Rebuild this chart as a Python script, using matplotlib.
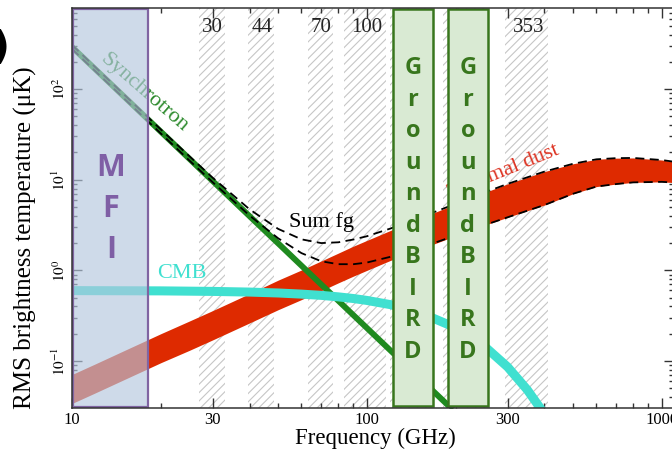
import matplotlib
matplotlib.use('Agg')
import matplotlib.pyplot as plt
import matplotlib.transforms as mtransforms
from matplotlib.ticker import FixedLocator, LogLocator, NullFormatter

plt.rcParams['font.family'] = ['Liberation Serif', 'DejaVu Serif']
plt.rcParams['mathtext.fontset'] = 'stix'
plt.rcParams['hatch.linewidth'] = 0.8

freq = [10, 12, 15, 20, 25, 30, 40, 50, 60, 70, 80, 90, 100, 120, 150,
        200, 250, 300, 400, 500, 600, 700, 800, 1000, 1100]
dust_hi = [0.071, 0.093, 0.130, 0.20, 0.276, 0.36, 0.554, 0.78, 1.01, 1.27,
           1.55, 1.85, 2.14, 2.75, 3.7, 5.4, 7.2, 9.0, 12.3, 15.0, 16.8,
           17.3, 17.4, 16.5, 15.8]
dust_lo = [0.034, 0.0445, 0.0622, 0.0957, 0.131, 0.171, 0.263, 0.368, 0.476,
           0.596, 0.728, 0.864, 1.0, 1.285, 1.69, 2.41, 3.14, 3.85, 5.26,
           7.0, 8.4, 8.96, 9.35, 9.48, 9.3]
sum_hi = [306.4, 174.2, 87.3, 35.9, 18.2, 10.52, 4.72, 2.87, 2.20, 2.00,
          2.04, 2.19, 2.38, 2.89, 3.77, 5.43, 7.21, 9.0, 12.3, 15.0, 16.8,
          17.3, 17.4, 16.5, 15.8]
sum_lo = [277.1, 157.5, 79.0, 32.4, 16.3, 9.37, 4.03, 2.26, 1.55, 1.26,
          1.17, 1.17, 1.22, 1.41, 1.75, 2.43, 3.15, 3.85, 5.26, 7.0, 8.4,
          8.96, 9.35, 9.48, 9.3]

sync_freq = [10, 12, 15, 20, 25, 30, 40, 50, 60, 70, 80, 90, 100, 120, 150,
             200, 250]
sync_hi = [306.3, 174.1, 87.2, 35.7, 17.9, 10.16, 4.17, 2.09, 1.185, 0.735,
           0.486, 0.337, 0.243, 0.138, 0.0692, 0.0284, 0.0142]
sync_lo = [277.1, 157.5, 78.9, 32.3, 16.2, 9.20, 3.77, 1.89, 1.073, 0.665,
           0.440, 0.305, 0.220, 0.125, 0.0626, 0.0257, 0.0129]

cmb_freq = [10, 20, 30, 40, 50, 60, 70, 80, 90, 100, 120, 150, 200, 250,
            300, 350, 400]
cmb = [0.598, 0.594, 0.586, 0.576, 0.563, 0.547, 0.530, 0.510, 0.489,
       0.466, 0.419, 0.346, 0.233, 0.146, 0.086, 0.048, 0.026]

# Planck channels: centre (GHz), fractional bandwidth, label
band_centre = [30, 44, 70, 100, 143, 217, 353]
band_width = [0.2, 0.2, 0.2, 0.33, 0.33, 0.33, 0.33]
band_label = ['30', '44', '70', '100', '', '', '353']

green = '#1f8a1f'
red = '#de2a00'
cyan = '#40e0d0'

fig = plt.figure(figsize=(6.72, 4.51), dpi=100)
ax = fig.add_axes([72 / 672, 43 / 451, 602 / 672, 400 / 451])
ax.set_xscale('log')
ax.set_yscale('log')
ax.set_xlim(10, 1100)
ax.set_ylim(0.0303, 785)

trans = mtransforms.blended_transform_factory(ax.transData, ax.transAxes)

for c, w, lab in zip(band_centre, band_width, band_label):
    ax.axvspan(c * (1 - w / 2), c * (1 + w / 2), facecolor='white',
               edgecolor='#c6c6c6', hatch='////', lw=0, zorder=0.5)
    if lab:
        ax.text(c, 0.95, lab, transform=trans, ha='center', va='center',
                fontsize=15, color='#222222', zorder=1)

# foregrounds
ax.fill_between(freq, dust_lo, dust_hi, color=red, lw=0, zorder=2)
ax.fill_between(sync_freq, sync_lo, sync_hi, color=green, lw=0, zorder=3)
ax.plot(sync_freq, sync_hi, color=green, lw=2.2, zorder=3)
ax.plot(sync_freq, sync_lo, color=green, lw=2.2, zorder=3)
ax.plot(cmb_freq, cmb, color=cyan, lw=6.5, solid_capstyle='butt', zorder=4)
ax.plot(freq, sum_hi, color='black', lw=1.3, ls=(0, (5, 3)), zorder=5)
ax.plot(freq, sum_lo, color='black', lw=1.3, ls=(0, (5, 3)), zorder=5)

ax.text(17.6, 90, 'Synchrotron', color='#2e8b2e', fontsize=16, rotation=-41,
        ha='center', va='center', zorder=6)
ax.text(291, 12.1, 'Thermal dust', color='#dd3322', fontsize=16, rotation=22,
        ha='center', va='center', zorder=6)
ax.text(70.3, 3.39, 'Sum fg', color='black', fontsize=16,
        ha='center', va='center', zorder=6)
ax.text(23.6, 0.93, 'CMB', color=cyan, fontsize=16,
        ha='center', va='center', zorder=6)

# MFI box (semi-transparent)
ax.axvspan(10.05, 18.1, ymin=0.0025, ymax=0.9975, facecolor=(0.71, 0.78, 0.87),
           alpha=0.65, lw=0, zorder=7)
ax.axvspan(10.05, 18.1, ymin=0.0025, ymax=0.9975, fill=False,
           edgecolor='#8064a2', lw=1.6, zorder=7.5)
ax.text(13.55, 0.497, 'M\nF\nI', transform=trans, ha='center', va='center',
        fontsize=22, fontweight='bold', family='Open Sans', color='#7f5fa5',
        linespacing=1.49, zorder=8)

# GroundBIRD boxes
for lo, hi, mid in [(122.5, 167.4, 143.3), (188.2, 257.1, 219.9)]:
    ax.axvspan(lo, hi, ymin=0.005, ymax=0.9975, facecolor='#d9ead3',
               edgecolor='#38761d', lw=1.8, zorder=9)
    ax.text(mid, 0.495, 'G\nr\no\nu\nn\nd\nB\nI\nR\nD', transform=trans,
            ha='center', va='center', fontsize=17, fontweight='bold',
            family='Open Sans', color='#38761d', linespacing=1.42, zorder=10)

# axes, ticks
ax.xaxis.set_major_locator(FixedLocator([10, 30, 100, 300, 1000]))
ax.set_xticklabels(['10', '30', '100', '300', '1000'])
ax.xaxis.set_minor_locator(LogLocator(base=10, subs=range(2, 10), numticks=20))
ax.xaxis.set_minor_formatter(NullFormatter())
ax.yaxis.set_major_locator(FixedLocator([0.1, 1, 10, 100]))
ax.set_yticklabels(['$10^{-1}$', '$10^{0}$', '$10^{1}$', '$10^{2}$'],
                   rotation=90, va='center', ha='right')
ax.yaxis.set_minor_locator(LogLocator(base=10, subs=range(2, 10), numticks=20))
ax.yaxis.set_minor_formatter(NullFormatter())
ax.tick_params(which='both', direction='in', top=True, right=True,
               color='#333333', width=1.0)
ax.tick_params(which='major', length=7)
ax.tick_params(which='minor', length=3.5)
ax.tick_params(axis='x', labelsize=12, pad=3)
ax.tick_params(axis='y', labelsize=11, pad=3)
for s in ax.spines.values():
    s.set_color('#333333')
    s.set_linewidth(1.1)
    s.set_zorder(11)

fig.text(375 / 672, 13 / 451, 'Frequency (GHz)', ha='center', va='center',
         fontsize=16.5)
fig.text(25 / 672, 0.472, 'RMS brightness temperature (\u03bcK)', rotation=90,
         ha='center', va='center', fontsize=18)
fig.text(10 / 672, 0.893, ')', ha='right', va='center', fontsize=28,
         fontweight='bold', family='DejaVu Sans')

fig.savefig('out.png', dpi=100)
